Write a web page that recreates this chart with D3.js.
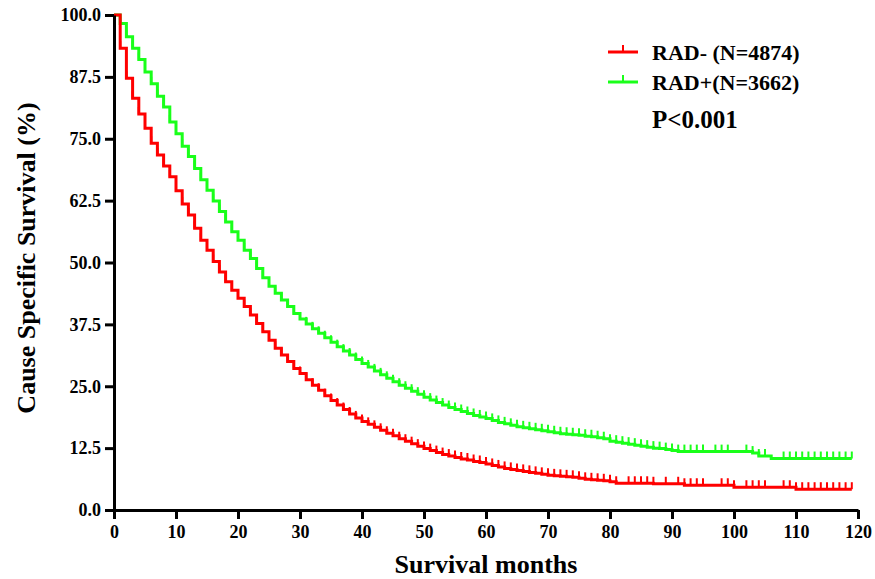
<!DOCTYPE html>
<html>
<head>
<meta charset="utf-8">
<script src="https://cdn.jsdelivr.net/npm/d3@7"></script>
<style>
  body { margin: 0; background: #fff; }
  svg text { font-family: "Liberation Serif", "Times New Roman", serif; font-weight: bold; fill: #000; }
</style>
</head>
<body>
<div id="wrapper"></div>
<script>
// survival (%) at each month 0..119
let radNeg = [
  100, 93.3, 87.2, 83.2, 80.0, 77.1, 74.1, 71.7, 69.5, 67.3,
  64.5, 61.8, 59.6, 56.9, 54.5, 52.5, 50.2, 48.1, 46.1, 44.4,
  42.8, 41.1, 39.4, 37.7, 36.0, 34.3, 32.7, 31.3, 30.0, 28.6,
  27.6, 26.3, 25.2, 24.2, 23.1, 22.1, 21.2, 20.3, 19.4, 18.6,
  17.9, 17.3, 16.7, 16.1, 15.5, 15.0, 14.4, 13.9, 13.4, 12.9,
  12.4, 12.0, 11.6, 11.2, 10.9, 10.6, 10.3, 10.1, 9.8, 9.6,
  9.3, 9.0, 8.7, 8.4, 8.2, 8.0, 7.8, 7.6, 7.4, 7.2,
  7.0, 6.9, 6.8, 6.7, 6.6, 6.4, 6.2, 6.1, 6.0, 5.9,
  5.7, 5.4, 5.4, 5.4, 5.4, 5.4, 5.4, 5.3, 5.3, 5.3,
  5.3, 5.3, 5.0, 5.0, 5.0, 5.0, 5.0, 5.0, 5.0, 5.0,
  4.6, 4.6, 4.6, 4.6, 4.6, 4.6, 4.6, 4.6, 4.6, 4.6,
  4.2, 4.2, 4.2, 4.2, 4.2, 4.2, 4.2, 4.2, 4.2, 4.2
];
let radPos = [
  100, 98.3, 95.6, 93.3, 91.0, 88.5, 86.1, 83.6, 81.4, 78.4,
  76.0, 73.5, 71.4, 69.0, 66.7, 64.6, 62.4, 60.3, 58.2, 56.2,
  54.5, 52.5, 50.8, 48.8, 46.9, 45.2, 43.8, 42.4, 41.1, 39.7,
  38.6, 37.6, 36.6, 35.7, 34.8, 33.9, 33.0, 32.1, 31.3, 30.4,
  29.6, 28.9, 28.1, 27.3, 26.6, 25.9, 25.2, 24.6, 24.0, 23.4,
  22.8, 22.2, 21.7, 21.2, 20.7, 20.3, 19.9, 19.5, 19.1, 18.8,
  18.5, 18.1, 17.7, 17.4, 17.1, 16.8, 16.6, 16.4, 16.2, 16.0,
  15.8, 15.6, 15.4, 15.3, 15.2, 15.1, 14.9, 14.8, 14.6, 14.4,
  13.9, 13.7, 13.5, 13.3, 13.1, 12.9, 12.7, 12.5, 12.4, 12.2,
  12.0, 11.8, 11.8, 11.8, 11.8, 11.8, 11.8, 11.8, 11.8, 11.8,
  11.8, 11.8, 11.8, 11.5, 10.9, 10.9, 10.4, 10.4, 10.4, 10.4,
  10.4, 10.4, 10.4, 10.4, 10.4, 10.4, 10.4, 10.4, 10.4, 10.4
];
// months without a censor mark
let noCensorNeg = [0, 82, 88, 90, 96, 97, 101, 106, 107];
let noCensorPos = [0, 96, 100, 101, 106, 107];

let groups = ['RAD- (N=4874)', 'RAD+(N=3662)'];
let colors = ['#ff0000', '#1aff1a'];
let pValue = 'P<0.001';

let xTicks = [0, 10, 20, 30, 40, 50, 60, 70, 80, 90, 100, 110, 120];
let yTicks = [0, 12.5, 25, 37.5, 50, 62.5, 75, 87.5, 100];
let xTitle = 'Survival months';
let yTitle = 'Cause Specific Survival (%)';

let width = 875,
    height = 579,
    margin = { left: 114, top: 15, right: 17, bottom: 69 };

let svg = d3.select('div#wrapper')
            .append('svg')
            .attr('width', width)
            .attr('height', height);

let x = d3.scaleLinear()
          .domain([0, 120])
          .range([margin.left, width - margin.right]);

let y = d3.scaleLinear()
          .domain([0, 100])
          .range([height - margin.bottom, margin.top]);

let line = d3.line()
             .x(function(d, i){ return x(i); })
             .y(function(d){ return y(d); })
             .curve(d3.curveStepAfter);

let series = [
  { name: groups[1], values: radPos, skip: noCensorPos, color: colors[1] },
  { name: groups[0], values: radNeg, skip: noCensorNeg, color: colors[0] }
];

series.forEach(function(s){
  svg.append('path')
     .datum(s.values)
     .attr('fill', 'none')
     .attr('stroke', s.color)
     .attr('stroke-width', 3)
     .attr('d', line);

  let marks = s.values.map(function(v, i){ return { m: i, v: v }; })
                      .filter(function(d){ return s.skip.indexOf(d.m) < 0; });

  svg.append('g')
     .selectAll('line')
     .data(marks)
     .enter()
     .append('line')
     .attr('x1', function(d){ return x(d.m); })
     .attr('x2', function(d){ return x(d.m); })
     .attr('y1', function(d){ return y(d.v); })
     .attr('y2', function(d){ return y(d.v) - 7; })
     .attr('stroke', s.color)
     .attr('stroke-width', 2);
});

let xAxis = d3.axisBottom(x)
              .tickValues(xTicks)
              .tickFormat(d3.format('d'))
              .tickSizeInner(9)
              .tickSizeOuter(0)
              .tickPadding(6);

let yAxis = d3.axisLeft(y)
              .tickValues(yTicks)
              .tickFormat(d3.format('.1f'))
              .tickSizeInner(9)
              .tickSizeOuter(0)
              .tickPadding(4);

let gx = svg.append('g')
            .attr('transform', 'translate(0,' + y(0) + ')')
            .call(xAxis);

let gy = svg.append('g')
            .attr('transform', 'translate(' + x(0) + ',0)')
            .call(yAxis);

[gx, gy].forEach(function(g){
  g.select('.domain').attr('stroke', '#000').attr('stroke-width', 3);
  g.selectAll('.tick line').attr('stroke', '#000').attr('stroke-width', 3);
  g.selectAll('.tick text')
   .style('font-family', '"Liberation Serif", "Times New Roman", serif')
   .style('font-weight', 'bold')
   .style('font-size', '18px')
   .attr('fill', '#000');
});

svg.append('text')
   .attr('x', (x(0) + x(120)) / 2)
   .attr('y', 573)
   .attr('text-anchor', 'middle')
   .style('font-size', '26px')
   .text(xTitle);

svg.append('text')
   .attr('transform', 'translate(35,' + 258 + ') rotate(-90)')
   .attr('text-anchor', 'middle')
   .style('font-size', '26px')
   .text(yTitle);

// legend
let legend = svg.append('g');
groups.forEach(function(name, i){
  let ly = 52 + i * 30;
  legend.append('line')
        .attr('x1', 608).attr('x2', 638)
        .attr('y1', ly).attr('y2', ly)
        .attr('stroke', colors[i])
        .attr('stroke-width', 3);
  legend.append('line')
        .attr('x1', 623).attr('x2', 623)
        .attr('y1', ly).attr('y2', ly - 7)
        .attr('stroke', colors[i])
        .attr('stroke-width', 2);
  legend.append('text')
        .attr('x', 652)
        .attr('y', ly + 8)
        .style('font-size', '22px')
        .text(name);
});

legend.append('text')
      .attr('x', 652)
      .attr('y', 128)
      .style('font-size', '25px')
      .text(pValue);
</script>
</body>
</html>
